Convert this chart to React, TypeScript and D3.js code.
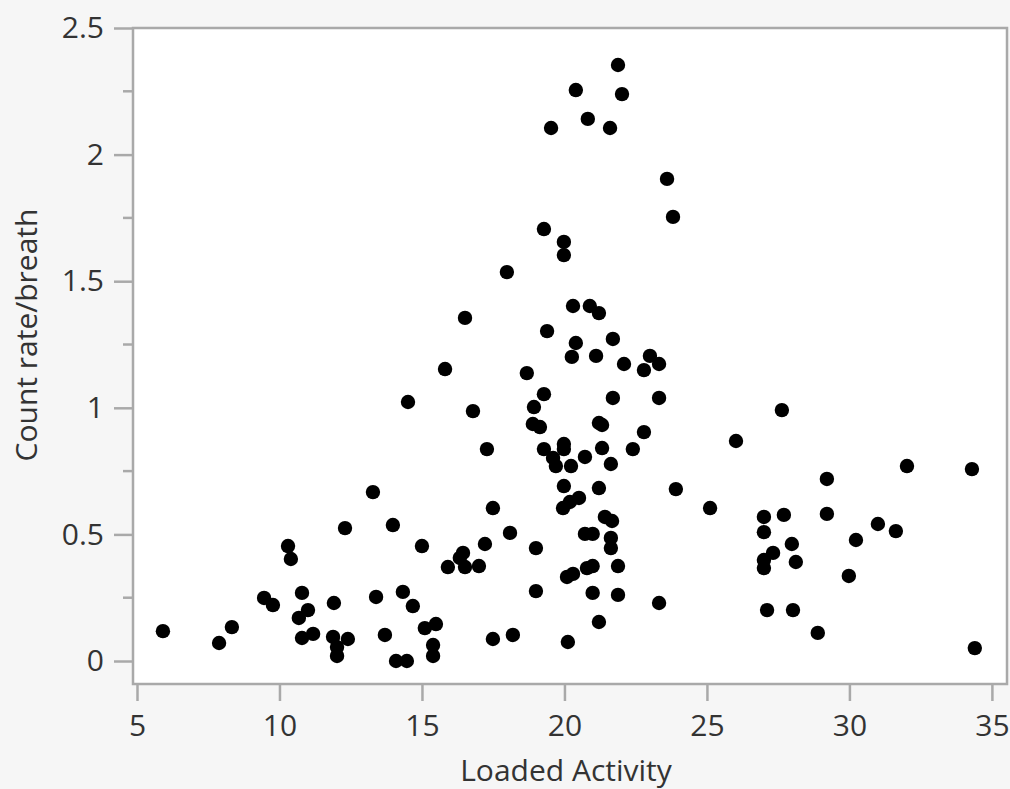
import React, { useEffect, useRef } from "react";
import * as d3 from "d3";

// Loaded Activity (x) and Count rate/breath (y)
const activity = [
  5.91, 7.88, 8.33, 9.46, 9.77, 10.3, 10.4, 10.79, 11.0, 10.68, 10.79, 11.18, 11.91, 11.88, 12.4, 12.02, 12.02,
  12.3, 13.28, 13.39, 13.7, 13.98, 14.09, 14.33, 14.47, 14.68, 14.51, 15.0, 15.1, 15.49, 15.39, 15.39,
  15.81, 15.91, 16.33, 16.44, 16.51, 16.51, 17.0, 16.79, 17.21, 17.28, 17.49, 17.49, 17.98, 18.09, 18.19,
  18.68, 18.89, 19.14, 18.93, 19.0, 19.0, 19.28, 19.28, 19.28, 19.39, 19.53, 19.6, 19.7, 19.98, 19.98,
  19.98, 19.98, 19.98, 19.95, 20.09, 20.12, 20.19, 20.23, 20.26, 20.3, 20.3, 20.4, 20.4, 20.51, 20.72,
  20.72, 20.79, 20.82, 20.89, 20.99, 20.99, 20.99, 21.11, 21.21, 21.21, 21.32, 21.21, 21.21, 21.32, 21.42,
  21.67, 21.6, 21.63, 21.63, 21.63, 21.7, 21.7, 21.88, 21.88, 21.88, 22.02, 22.09, 22.4, 22.79, 22.79,
  23.0, 23.32, 23.32, 23.32, 23.6, 23.81, 23.91, 25.11, 26.02, 27.0, 27.0, 27.0, 27.0, 27.11, 27.32,
  27.63, 27.7, 27.98, 28.02, 28.12, 28.89, 29.21, 29.21, 29.98, 30.23, 31.0, 31.63, 32.02, 34.3, 34.4,
];
const countRate = [
  0.118, 0.071, 0.134, 0.249, 0.221, 0.454, 0.403, 0.269, 0.201, 0.17, 0.091, 0.107, 0.229, 0.095, 0.087, 0.055, 0.02,
  0.525, 0.667, 0.253, 0.103, 0.537, 0.0, 0.273, 0.0, 0.217, 1.023, 0.454, 0.13, 0.146, 0.063, 0.02,
  1.153, 0.371, 0.407, 0.427, 0.371, 1.355, 0.375, 0.987, 0.462, 0.837, 0.604, 0.087, 1.536, 0.506, 0.103,
  1.137, 0.936, 0.924, 1.003, 0.446, 0.276, 1.054, 1.706, 0.837, 1.303, 2.105, 0.802, 0.77, 1.655, 1.603,
  0.857, 0.837, 0.691, 0.604, 0.332, 0.075, 0.628, 0.77, 1.201, 1.402, 0.344, 1.256, 2.255, 0.644, 0.806,
  0.502, 0.367, 2.141, 1.402, 0.502, 0.375, 0.269, 1.205, 1.374, 0.94, 0.932, 0.683, 0.154, 0.841, 0.569,
  0.553, 2.105, 0.778, 0.486, 0.446, 1.272, 1.039, 2.354, 0.375, 0.261, 2.239, 1.173, 0.837, 0.904, 1.149,
  1.205, 1.173, 1.039, 0.229, 1.904, 1.754, 0.679, 0.604, 0.869, 0.569, 0.509, 0.399, 0.367, 0.201, 0.427,
  0.991, 0.577, 0.462, 0.201, 0.391, 0.111, 0.719, 0.581, 0.336, 0.478, 0.541, 0.513, 0.77, 0.758, 0.051,
];
const xTicks = [5, 10, 15, 20, 25, 30, 35];
const yTicks = [0, 0.5, 1, 1.5, 2, 2.5];
const yMinor = [0.25, 0.75, 1.25, 1.75, 2.25];

const W = 1010, H = 789;
const left = 133, right = 1007, top = 28, bottom = 684;
const font = "'Open Sans', 'Noto Sans', sans-serif";

export default function App() {
  const ref = useRef<SVGSVGElement>(null);

  useEffect(() => {
    const svg = d3.select(ref.current);
    svg.selectAll("*").remove();

    const x = d3.scaleLinear().domain([4.86, 35.53]).range([left, right]);
    const y = d3.scaleLinear().domain([-0.0908, 2.5]).range([bottom, top]);

    svg.append("rect").attr("width", W).attr("height", H).attr("fill", "#f6f6f6");
    svg.append("rect")
      .attr("x", left).attr("y", top)
      .attr("width", right - left).attr("height", bottom - top)
      .attr("fill", "#fff");

    // points
    svg.append("g")
      .selectAll("circle")
      .data(activity.map((a, i) => [a, countRate[i]]))
      .enter().append("circle")
      .attr("cx", d => x(d[0]))
      .attr("cy", d => y(d[1]))
      .attr("r", 7.2)
      .attr("fill", "#000");

    // frame
    svg.append("rect")
      .attr("x", left).attr("y", top)
      .attr("width", right - left).attr("height", bottom - top)
      .attr("fill", "none").attr("stroke", "#a9a9a9").attr("stroke-width", 2.5);

    // x axis
    const gx = svg.append("g")
      .attr("transform", "translate(0," + (bottom + 1) + ")")
      .call(d3.axisBottom(x).tickValues(xTicks).tickSize(16).tickPadding(14).tickFormat(d3.format("d")));
    gx.select(".domain").remove();
    gx.selectAll("line").attr("stroke", "#a9a9a9").attr("stroke-width", 2.5);
    gx.selectAll("text").attr("fill", "#333").attr("font-size", 30).attr("font-family", font);

    // y axis
    const gy = svg.append("g")
      .attr("transform", "translate(" + (left - 1) + ",0)")
      .call(d3.axisLeft(y).tickValues(yTicks).tickSize(18).tickPadding(10).tickFormat(d => String(d)));
    gy.select(".domain").remove();
    gy.selectAll("line").attr("stroke", "#a9a9a9").attr("stroke-width", 2.5);
    gy.selectAll("text").attr("fill", "#333").attr("font-size", 30).attr("font-family", font);

    svg.append("g")
      .selectAll("line")
      .data(yMinor)
      .enter().append("line")
      .attr("x1", left - 10).attr("x2", left)
      .attr("y1", d => y(d)).attr("y2", d => y(d))
      .attr("stroke", "#a9a9a9").attr("stroke-width", 2.5);

    // titles
    svg.append("text")
      .attr("x", 566).attr("y", 781)
      .attr("text-anchor", "middle")
      .attr("font-family", font).attr("font-size", 30).attr("fill", "#333")
      .text("Loaded Activity");

    svg.append("text")
      .attr("transform", "translate(37,335) rotate(-90)")
      .attr("text-anchor", "middle")
      .attr("font-family", font).attr("font-size", 30).attr("fill", "#333")
      .text("Count rate/breath");
  }, []);

  return (
    <svg ref={ref} width={W} height={H} style={{ position: "absolute", left: 0, top: 0 }}></svg>
  );
}
